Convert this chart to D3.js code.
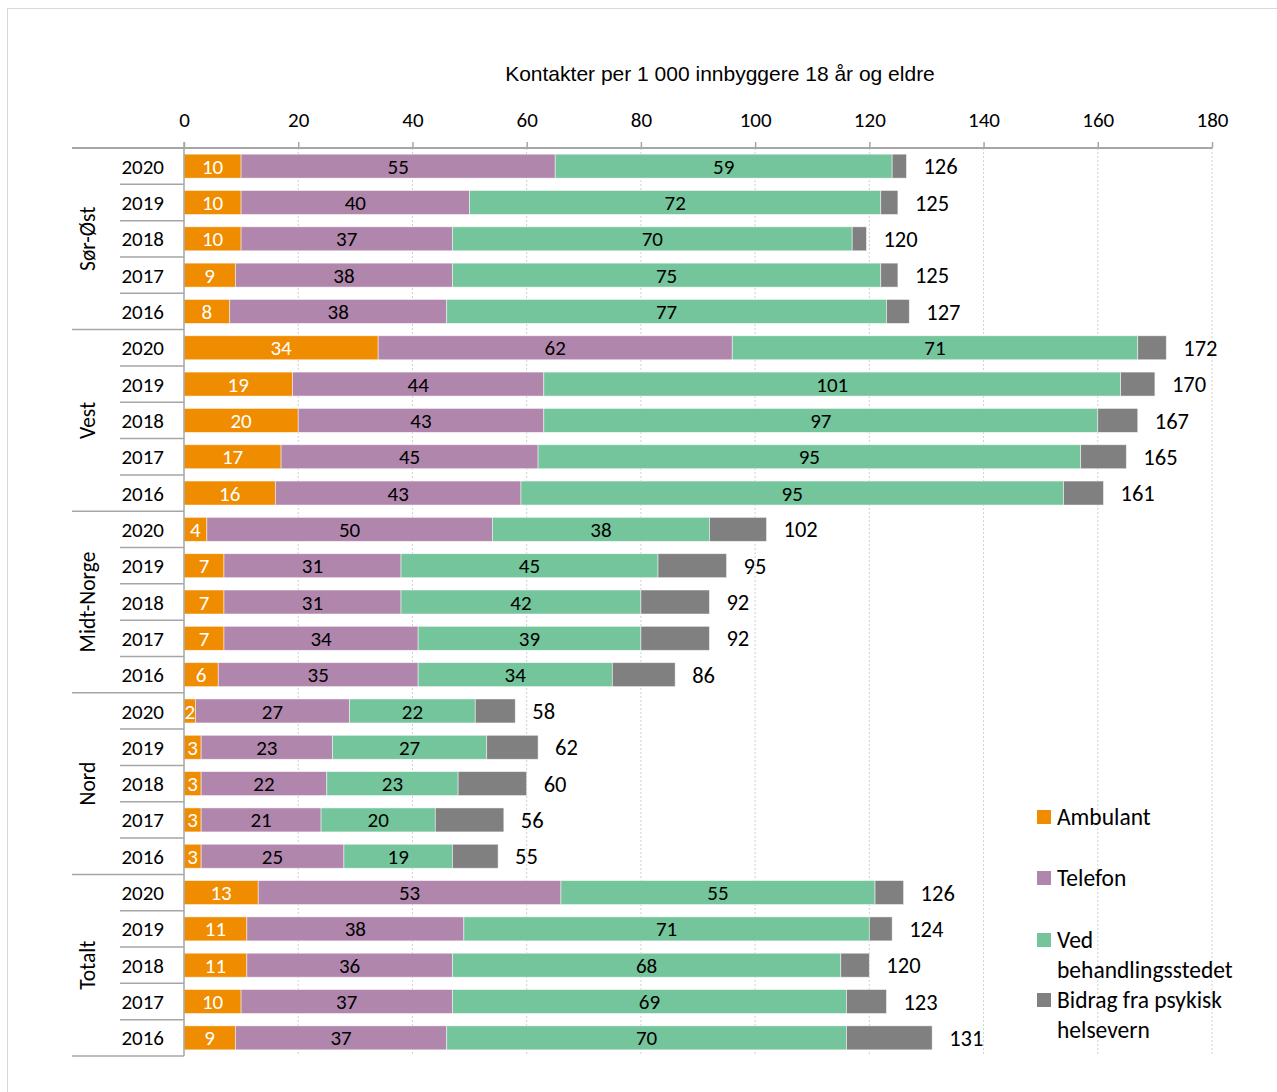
<!DOCTYPE html>
<html>
<head>
<meta charset="utf-8">
<script src="https://cdn.jsdelivr.net/npm/d3@7"></script>
<style>
  body { margin: 0; background: #fff; }
  text { font-family: Carlito, Lato, sans-serif; fill: #000; }
</style>
</head>
<body>
<div id="chart"></div>
<script>
// regions and years (rows go top to bottom)
var groups = ["Sør-Øst", "Vest", "Midt-Norge", "Nord", "Totalt"];
var years = ["2020", "2019", "2018", "2017", "2016"];

var seriesNames = ["Ambulant", "Telefon", "Ved behandlingsstedet", "Bidrag fra psykisk helsevern"];

var ambulant = [10, 10, 10, 9, 8, 34, 19, 20, 17, 16, 4, 7, 7, 7, 6, 2, 3, 3, 3, 3, 13, 11, 11, 10, 9];
var telefon = [55, 40, 37, 38, 38, 62, 44, 43, 45, 43, 50, 31, 31, 34, 35, 27, 23, 22, 21, 25, 53, 38, 36, 37, 37];
var ved = [59, 72, 70, 75, 77, 71, 101, 97, 95, 95, 38, 45, 42, 39, 34, 22, 27, 23, 20, 19, 55, 71, 68, 69, 70];
// grey part has no label in the chart
var bidrag = [2.5, 3, 2.5, 3, 4, 5, 6, 7, 8, 7, 10, 12, 12, 12, 11, 7, 9, 12, 12, 8, 5, 4, 5, 7, 15];
var totals = [126, 125, 120, 125, 127, 172, 170, 167, 165, 161, 102, 95, 92, 92, 86, 58, 62, 60, 56, 55, 126, 124, 120, 123, 131];

var xTicks = [0, 20, 40, 60, 80, 100, 120, 140, 160, 180];
var colors = ["#f08c00", "#b086ad", "#74c59b", "#808080"];
var labelColors = ["#fff", "#000", "#000", null];

var width = 1277,
    height = 1092;

var svg = d3.select("#chart").append("svg")
    .attr("width", width)
    .attr("height", height);

// outer frame
svg.append("rect")
    .attr("x", 7.5).attr("y", 8.5)
    .attr("width", width).attr("height", height)
    .attr("fill", "none")
    .attr("stroke", "#d9d9d9");

var plotTop = 148, plotBottom = 1056;

var x = d3.scaleLinear().domain([0, 180]).range([184, 1212]);

var rows = [];
groups.forEach(function(g, gi) {
  years.forEach(function(yr, yi) {
    var i = gi * years.length + yi;
    rows.push({
      key: g + "|" + yr, group: g, year: yr,
      a: ambulant[i], t: telefon[i], v: ved[i], b: bidrag[i], total: totals[i]
    });
  });
});

var y = d3.scaleBand()
    .domain(rows.map(function(d) { return d.key; }))
    .range([plotTop, plotBottom])
    .paddingInner(0.34)
    .paddingOuter(0.17);
var rowH = (plotBottom - plotTop) / rows.length;

// grid lines
svg.append("g").selectAll("line")
    .data(xTicks.slice(1))
    .enter().append("line")
    .attr("x1", function(d) { return x(d); })
    .attr("x2", function(d) { return x(d); })
    .attr("y1", plotTop).attr("y2", plotBottom)
    .attr("stroke", "#d0d0d0")
    .attr("stroke-dasharray", "2,2");

// top axis
var xAxis = d3.axisTop(x).tickValues(xTicks).tickSize(6).tickPadding(15);
var ax = svg.append("g")
    .attr("transform", "translate(0," + plotTop + ")")
    .call(xAxis);
ax.select(".domain").remove();
ax.selectAll(".tick line").attr("stroke", "#a6a6a6").attr("stroke-width", 1.5);
ax.selectAll(".tick text").style("font-size", "21px").attr("fill", "#000");
svg.append("line")
    .attr("x1", 72).attr("x2", x(180))
    .attr("y1", plotTop).attr("y2", plotTop)
    .attr("stroke", "#a6a6a6").attr("stroke-width", 2);

// title
svg.append("text")
    .attr("x", 720).attr("y", 81)
    .attr("text-anchor", "middle")
    .style("font-family", "'Liberation Sans', Arial, sans-serif")
    .style("font-size", "21px")
    .text("Kontakter per 1 000 innbyggere 18 år og eldre");

// stacked bars
var stack = d3.stack().keys(["a", "t", "v", "b"]);
var layers = stack(rows);

var barG = svg.append("g");
layers.forEach(function(layer, li) {
  barG.append("g").selectAll("rect")
    .data(layer)
    .enter().append("rect")
    .attr("x", function(d) { return x(d[0]); })
    .attr("y", function(d) { return y(d.data.key); })
    .attr("width", function(d) { return x(d[1]) - x(d[0]); })
    .attr("height", y.bandwidth())
    .attr("fill", colors[li])
    .attr("stroke", "rgba(255,255,255,0.6)")
    .attr("stroke-width", 0.8);

  if (labelColors[li]) {
    barG.append("g").selectAll("text")
      .data(layer)
      .enter().append("text")
      .attr("x", function(d) { return (x(d[0]) + x(d[1])) / 2; })
      .attr("y", function(d) { return y(d.data.key) + y.bandwidth() / 2; })
      .attr("dy", "0.36em")
      .attr("text-anchor", "middle")
      .style("font-size", "21px")
      .style("fill", labelColors[li])
      .text(function(d) { return d[1] - d[0]; });
  }
});

// totals
svg.append("g").selectAll("text")
    .data(layers[3])
    .enter().append("text")
    .attr("x", function(d) { return x(d[1]) + 17; })
    .attr("y", function(d) { return y(d.data.key) + y.bandwidth() / 2; })
    .attr("dy", "0.36em")
    .style("font-size", "22.5px")
    .text(function(d) { return d.data.total; });

// left category axis
svg.append("line")
    .attr("x1", x(0)).attr("x2", x(0))
    .attr("y1", plotTop - 6).attr("y2", plotBottom)
    .attr("stroke", "#a6a6a6").attr("stroke-width", 1.5);

svg.append("g").selectAll("text")
    .data(rows)
    .enter().append("text")
    .attr("x", 164)
    .attr("y", function(d) { return y(d.key) + y.bandwidth() / 2; })
    .attr("dy", "0.36em")
    .attr("text-anchor", "end")
    .style("font-size", "21px")
    .text(function(d) { return d.year; });

// separators between years
var sepG = svg.append("g");
rows.forEach(function(d, i) {
  var yy = plotTop + i * rowH;
  var isGroup = i % years.length === 0;
  sepG.append("line")
    .attr("x1", isGroup ? 72 : 120).attr("x2", x(0))
    .attr("y1", yy).attr("y2", yy)
    .attr("stroke", "#a6a6a6").attr("stroke-width", 1.5);
});
sepG.append("line")
    .attr("x1", 72).attr("x2", x(0))
    .attr("y1", plotBottom).attr("y2", plotBottom)
    .attr("stroke", "#a6a6a6").attr("stroke-width", 1.5);

// group names, rotated
svg.append("g").selectAll("text")
    .data(groups)
    .enter().append("text")
    .attr("transform", function(d, i) {
      var cy = plotTop + (i + 0.5) * years.length * rowH;
      return "translate(95," + cy + ") rotate(-90)";
    })
    .attr("text-anchor", "middle")
    .style("font-size", "21.5px")
    .text(function(d) { return d; });

// legend
var legendLines = [["Ambulant"], ["Telefon"], ["Ved", "behandlingsstedet"], ["Bidrag fra psykisk", "helsevern"]];
var legendY = [817, 878, 940, 1000];
var leg = svg.append("g");
legendLines.forEach(function(lines, i) {
  leg.append("rect")
    .attr("x", 1037).attr("y", legendY[i] - 7)
    .attr("width", 14).attr("height", 14)
    .attr("fill", colors[i]);
  lines.forEach(function(t, j) {
    leg.append("text")
      .attr("x", 1057)
      .attr("y", legendY[i] + j * 29.5)
      .attr("dy", "0.36em")
      .style("font-size", "23.5px")
      .text(t);
  });
});
</script>
</body>
</html>
